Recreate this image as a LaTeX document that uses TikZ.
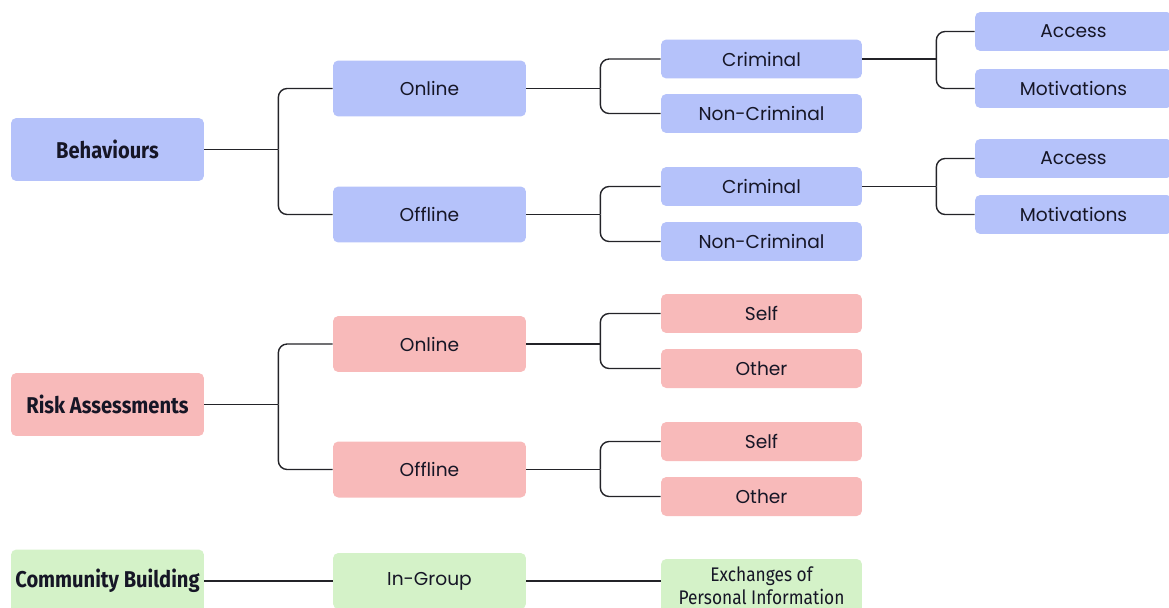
\documentclass[tikz,border=0pt]{standalone}
\usepackage{fontspec}
\setmainfont{Poppins}
\newfontfamily\rootfont[FakeStretch=0.88]{Fira Sans}
\definecolor{bluebg}{RGB}{181,194,250}
\definecolor{redbg}{RGB}{248,186,186}
\definecolor{greenbg}{RGB}{212,242,200}
\definecolor{linegray}{RGB}{35,35,40}
\definecolor{txt}{RGB}{22,22,38}
\begin{document}
\begin{tikzpicture}[x=0.02cm, y=-0.02cm]

      \tikzset{box/.style={rectangle, rounded corners=3pt, inner sep=0pt, align=center, text=txt, font=\fontsize{10.6}{12}\selectfont},
               root/.style={box, minimum width=3.86cm, minimum height=1.26cm, font=\rootfont\bfseries\fontsize{13}{15}\selectfont},
               mid/.style={box, minimum width=3.86cm, minimum height=1.12cm},
               leaf/.style={box, minimum width=4.02cm, minimum height=0.78cm},
               far/.style={box, minimum width=3.94cm, minimum height=0.78cm},
               bluebox/.style={fill=bluebg}, redbox/.style={fill=redbg}, greenbox/.style={fill=greenbg},
               conn/.style={draw=linegray, line width=0.8pt, rounded corners=5pt}}
      \useasboundingbox (0,0) rectangle (1169,608);
%% Behaviours
      	\node[root, bluebox] (beh) at (107.5,149.5) {Behaviours};
      	\node[mid, bluebox] (bon) at (429.5,88.5) {Online};
      	\node[mid, bluebox] (boff) at (429.5,214.5) {Offline};
      	\node[leaf, bluebox] (bonc) at (761.5,59) {Criminal};
      	\node[leaf, bluebox] (bonn) at (761.5,113.5) {Non-Criminal};
      	\node[leaf, bluebox] (boffc) at (761.5,186.5) {Criminal};
      	\node[leaf, bluebox] (boffn) at (761.5,241.5) {Non-Criminal};
      	\node[far, bluebox] (bacc1) at (1073.5,31.5) {Access};
      	\node[far, bluebox] (bmot1) at (1073.5,88.5) {Motivations};
      	\node[far, bluebox] (bacc2) at (1073.5,158.5) {Access};
      	\node[far, bluebox] (bmot2) at (1073.5,214.5) {Motivations};
%% Risk Assessments
      	\node[root, redbox] (risk) at (107.5,404.5) {Risk Assessments};
      	\node[mid, redbox] (ron) at (429.5,344) {Online};
      	\node[mid, redbox] (roff) at (429.5,469.5) {Offline};
      	\node[leaf, redbox] (rons) at (761.5,313.5) {Self};
      	\node[leaf, redbox] (rono) at (761.5,368.5) {Other};
      	\node[leaf, redbox] (roffs) at (761.5,441.5) {Self};
      	\node[leaf, redbox] (roffo) at (761.5,496.5) {Other};
%% Community Building
      	\node[root, greenbox] (com) at (107.5,581) {Community Building};
      	\node[mid, greenbox] (ing) at (429.5,581) {In-Group};
      	\node[leaf, greenbox, minimum height=1.08cm, font=\rootfont\fontsize{11.2}{13}\selectfont] (exch) at (761.5,586) {Exchanges of\\Personal Information};
%Edges
		\draw[conn] (beh.east) -- ++(74,0) coordinate (j1);
		\draw[conn] (j1) |- (bon.west);
		\draw[conn] (j1) |- (boff.west);
		\draw[conn] (bon.east) -- ++(74,0) coordinate (j2);
		\draw[conn] (j2) |- (bonc.west);
		\draw[conn] (j2) |- (bonn.west);
		\draw[conn] (boff.east) -- ++(74,0) coordinate (j3);
		\draw[conn] (j3) |- (boffc.west);
		\draw[conn] (j3) |- (boffn.west);
		\draw[conn] (bonc.east) -- ++(74,0) coordinate (j4);
		\draw[conn] (j4) |- (bacc1.west);
		\draw[conn] (j4) |- (bmot1.west);
		\draw[conn] (boffc.east) -- ++(74,0) coordinate (j5);
		\draw[conn] (j5) |- (bacc2.west);
		\draw[conn] (j5) |- (bmot2.west);

		\draw[conn] (risk.east) -- ++(74,0) coordinate (j6);
		\draw[conn] (j6) |- (ron.west);
		\draw[conn] (j6) |- (roff.west);
		\draw[conn] (ron.east) -- ++(74,0) coordinate (j7);
		\draw[conn] (j7) |- (rons.west);
		\draw[conn] (j7) |- (rono.west);
		\draw[conn] (roff.east) -- ++(74,0) coordinate (j8);
		\draw[conn] (j8) |- (roffs.west);
		\draw[conn] (j8) |- (roffo.west);

		\draw[conn] (com.east) -- (ing.west);
		\draw[conn] (ing.east) -- (ing.east -| exch.west);

	\end{tikzpicture}
\end{document}
